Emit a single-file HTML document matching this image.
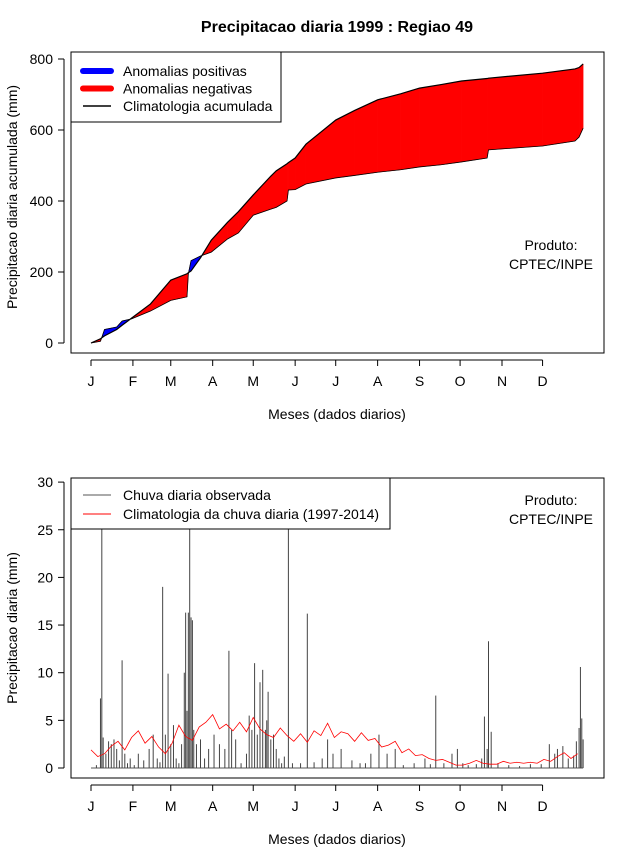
<!DOCTYPE html>
<html><head><meta charset="utf-8"><style>
body{margin:0;background:#fff}
svg{display:block;font-family:"Liberation Sans",sans-serif}
</style></head><body>
<svg id="s" width="640" height="850" viewBox="0 0 640 850">
<rect width="640" height="850" fill="#fff"/>
<text x="337" y="32" text-anchor="middle" font-size="16" font-weight="bold">Precipitacao diaria 1999 : Regiao 49</text>
<g id="top"></g>
<g id="bot"></g>
</svg>
<script>
// Top panel data: cumulative precipitation (mm) at days of year
const cumDays = [1,8,11,20,24,31,45,60,72,73,75,82,90,102,110,121,134,138,146,147,152,160,182,196,213,230,244,260,275,294,295,335,359,362,365];
const cumClim = [0,12,20,38,50,70,110,177,195,198,203,240,290,340,370,417,470,485,505,508,521,560,628,655,685,702,718,728,738,745,746,760,772,776,786];
const cumObs  = [0,5,38,45,62,68,90,120,130,195,232,245,256,293,310,360,377,382,400,431,432,448,465,472,481,488,496,502,510,521,544,555,569,580,605];
// Bottom panel data: observed daily rain events (day, mm)
const obsDays = [5,8,9,10,12,14,16,18,20,22,24,26,28,30,33,36,40,44,47,50,52,54,56,58,60,62,64,66,68,70,71,72,73,74,75,76,77,79,82,85,88,92,96,100,103,105,108,112,116,118,120,122,124,126,128,130,131,132,134,136,138,140,142,144,147,150,156,161,166,172,176,180,186,194,200,204,208,214,220,226,232,240,248,252,256,262,268,272,276,280,286,290,292,294,295,297,302,310,318,326,334,340,344,346,350,354,358,360,362,363,364,365];
const obsVals = [0.3,7.3,32,3.2,1.5,2.8,2.5,3,2,0.8,11.3,1.5,0.5,1,0.3,1.5,0.8,2,3.5,1,0.6,19,3.5,9.9,2.5,4.5,1,0.5,2.5,10,16.3,6,16.3,32,15.8,15.5,4,2.5,3,1,2,3.5,2.5,2,12.3,4,3,0.5,1.5,5.5,4,11,3.5,9,10.3,4,5,8,3,3.5,2,1,0.5,1.2,32,0.5,0.5,16.2,0.6,1,3,1.5,2,0.8,0.5,0.5,1.5,3.5,1.5,2,0.3,0.5,1,0.4,7.6,0.5,1.5,2,0.5,0.3,0.4,1,5.4,2,13.3,3.8,0.5,0.3,0.2,0.4,0.4,2.5,1.5,2,2.3,1,1.3,2.8,4.2,10.6,5.2,3];
// Climatology of daily rain, 5-day resolution (day = 1 + 5*i)
const climVals = [1.9,1.2,1.5,2.3,2.8,1.9,3.2,3.9,2.6,3.3,2.2,1.5,2.6,4.5,3.3,2.9,4.3,4.8,5.6,4.1,4.6,3.9,4.8,3.8,5.3,4.1,3.5,3.2,4.2,3.4,2.8,3.6,2.7,3.9,3.4,4.7,3.2,3.8,3.6,2.8,3.7,2.9,3.1,2.2,2.4,2.8,1.6,2.0,1.3,1.4,1.0,0.8,0.9,0.6,0.3,0.3,0.5,0.8,0.5,0.4,0.4,0.7,0.5,0.6,0.5,0.6,0.5,0.9,0.7,1.2,1.6,1.0,1.5];
const monthLabels = ["J","F","M","A","M","J","J","A","S","O","N","D"];
const monthStart = [1,32,60,91,121,152,182,213,244,274,305,335];
const topTicks = [0,200,400,600,800];
const botTicks = [0,5,10,15,20,25,30];

const NS="http://www.w3.org/2000/svg";
function mk(parent,tag,attrs){const e=document.createElementNS(NS,tag);for(const k in attrs)e.setAttribute(k,attrs[k]);parent.appendChild(e);return e;}
const xD = d => 91 + (d-1)*1.352;
const yT = v => 343 - v*0.355;
const yB = v => 768 - v*9.53;

function axes(g, t0, b0, yfun, ticks, ylab, ycenter){
  const box=mk(g,'rect',{x:71,y:t0,width:533,height:b0-t0,fill:'none',stroke:'#000','stroke-width':1});
  
  
  const ay=mk(g,'line',{x1:64,x2:64,y1:yfun(ticks[0]),y2:yfun(ticks[ticks.length-1]),stroke:'#000'});
  
  
  ticks.forEach(t=>{
    mk(g,'line',{x1:58,x2:64,y1:yfun(t),y2:yfun(t),stroke:'#000'});
    const tx=mk(g,'text',{x:53,y:yfun(t)+5,'text-anchor':'end','font-size':14});
    tx.textContent=t;
    
    
  });
  const ax=mk(g,'line',{x1:xD(1),x2:xD(335),y1:b0+7,y2:b0+7,stroke:'#000'});
  
  
  monthStart.forEach((d,i)=>{
    mk(g,'line',{x1:xD(d),x2:xD(d),y1:b0+7,y2:b0+13,stroke:'#000'});
    const tx=mk(g,'text',{x:xD(d),y:b0+33,'text-anchor':'middle','font-size':14});
    tx.textContent=monthLabels[i];
    
    
  });
  const xl=mk(g,'text',{x:337,y:b0+66,'text-anchor':'middle','font-size':14});
  xl.textContent='Meses (dados diarios)';
  
  
  const yl=mk(g,'text',{x:0,y:0,'text-anchor':'middle','font-size':14,transform:`translate(17,${ycenter}) rotate(-90)`});
  yl.textContent=ylab;
  
  
}
function product(g,y){
  const p1=mk(g,'text',{x:551,y:y,'text-anchor':'middle','font-size':14});
  p1.textContent='Produto:';
  
  
  const p2=mk(g,'text',{x:551,y:y+19,'text-anchor':'middle','font-size':14});
  p2.textContent='CPTEC/INPE';
  
  
}

// TOP
const topG=document.getElementById('top');
axes(topG,52,353,yT,topTicks,'Precipitacao diaria acumulada (mm)',197);
product(topG,250);
for(let i=0;i<cumDays.length-1;i++){
  const x0=xD(cumDays[i]),x1=xD(cumDays[i+1]);
  const c0=cumClim[i],c1=cumClim[i+1],o0=cumObs[i],o1=cumObs[i+1];
  const d0=o0-c0,d1=o1-c1;
  const segs=[];
  if(d0*d1<0){
    const t=d0/(d0-d1);const xm=x0+t*(x1-x0);const vm=c0+t*(c1-c0);
    segs.push([x0,c0,o0,xm,vm,vm,d0>0]);
    segs.push([xm,vm,vm,x1,c1,o1,d1>0]);
  } else segs.push([x0,c0,o0,x1,c1,o1,(d0+d1)>0]);
  segs.forEach(s=>{
    const p=mk(topG,'polygon',{points:`${s[0]},${yT(s[1])} ${s[3]},${yT(s[4])} ${s[3]},${yT(s[5])} ${s[0]},${yT(s[2])}`,fill:s[6]?'#0000ff':'#ff0000',stroke:s[6]?'#0000ff':'#ff0000','stroke-width':0.5});
    
    
  });
}
const obsLine=mk(topG,'polyline',{points:cumDays.map((d,i)=>xD(d)+','+yT(cumObs[i])).join(' '),fill:'none',stroke:'#000','stroke-width':0.8});


const climLine=mk(topG,'polyline',{points:cumDays.map((d,i)=>xD(d)+','+yT(cumClim[i])).join(' '),fill:'none',stroke:'#000','stroke-width':1.2});


const lg=mk(topG,'g',{});


mk(lg,'rect',{x:71,y:52,width:210,height:70,fill:'#fff',stroke:'#000'});
[['Anomalias positivas','#0000ff',6],['Anomalias negativas','#ff0000',6],['Climatologia acumulada','#000',1.5]].forEach((e,i)=>{
  const y=71+i*17.5;
  const ln=mk(lg,'line',{x1:83,x2:111,y1:y,y2:y,stroke:e[1],'stroke-width':e[2],'stroke-linecap':e[2]>2?'round':'butt'});
  
  
  const t=mk(lg,'text',{x:123,y:y+5,'font-size':14});
  t.textContent=e[0];
  
  
});

// BOTTOM
const botG=document.getElementById('bot');
axes(botG,478,778,yB,botTicks,'Precipitacao diaria (mm)',628);
product(botG,505);
const clipR=mk(botG,'clipPath',{id:'cb'});
mk(clipR,'rect',{x:71,y:478,width:533,height:300});
const bars=mk(botG,'g',{'clip-path':'url(#cb)'});
mk(bars,'line',{x1:xD(1),x2:xD(365),y1:yB(0),y2:yB(0),stroke:'#555','stroke-width':1});
obsDays.forEach((d,i)=>{
  const b=mk(bars,'line',{x1:xD(d),x2:xD(d),y1:yB(0),y2:yB(obsVals[i]),stroke:'#444','stroke-width':1});
  
  
});
const cl=mk(bars,'polyline',{points:climVals.map((v,i)=>xD(1+5*i)+','+yB(v)).join(' '),fill:'none',stroke:'#ff0000','stroke-width':0.8});


const lg2=mk(botG,'g',{});


mk(lg2,'rect',{x:71,y:478,width:319,height:51,fill:'#fff',stroke:'#000'});
[['Chuva diaria observada','#555'],['Climatologia da chuva diaria (1997-2014)','#ff0000']].forEach((e,i)=>{
  const y=495+i*19;
  const ln=mk(lg2,'line',{x1:83,x2:111,y1:y,y2:y,stroke:e[1],'stroke-width':1});
  
  
  const t=mk(lg2,'text',{x:123,y:y+5,'font-size':14});
  t.textContent=e[0];
  
  
});
</script>
</body></html>
